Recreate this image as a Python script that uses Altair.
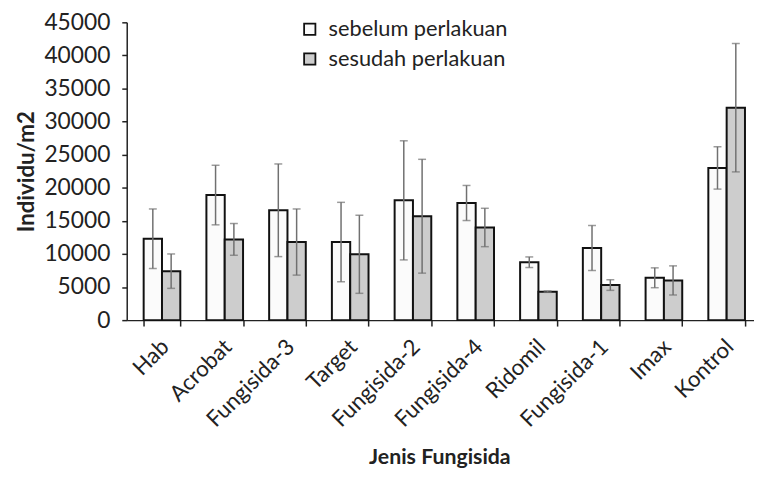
import altair as alt
import pandas as pd

categories = ["Hab", "Acrobat", "Fungisida-3", "Target", "Fungisida-2",
              "Fungisida-4", "Ridomil", "Fungisida-1", "Imax", "Kontrol"]
series_names = ["sebelum perlakuan", "sesudah perlakuan"]
sebelum = [12300, 18900, 16600, 11800, 18100, 17700, 8750, 10900, 6400, 23000]
sebelum_err = [4500, 4500, 7000, 6000, 9000, 2650, 800, 3400, 1500, 3200]
sesudah = [7400, 12200, 11800, 9950, 15700, 14000, 4300, 5300, 6000, 32100]
sesudah_err = [2600, 2400, 5000, 5900, 8600, 2900, 100, 800, 2200, 9700]
y_ticks = [0, 5000, 10000, 15000, 20000, 25000, 30000, 35000, 40000, 45000]

rows = []
for c, v, e in zip(categories, sebelum, sebelum_err):
    rows.append({"cat": c, "seri": series_names[0], "val": v, "lo": v - e, "hi": v + e})
for c, v, e in zip(categories, sesudah, sesudah_err):
    rows.append({"cat": c, "seri": series_names[1], "val": v, "lo": v - e, "hi": v + e})
df = pd.DataFrame(rows)

FONT = "Lato"

x_axis = alt.Axis(title="Jenis Fungisida", labelAngle=-45, labelAlign="right",
                  labelBaseline="middle", labelPadding=17, labelOffset=3,
                  labelFontSize=22.5, labelFont=FONT, labelColor="#222",
                  labelOverlap=False, labelLimit=300,
                  tickBand="extent", tickSize=6, tickColor="#222", tickWidth=1.5,
                  domainColor="#222", domainWidth=1.5,
                  titleFont=FONT, titleFontSize=21.5, titleFontWeight="bold",
                  titleColor="#222", titleBaseline="alphabetic", titleY=145, titleX=316)
y_axis = alt.Axis(title="Individu/m2", values=y_ticks, format="d", grid=False,
                  labelOverlap=False, labelFontSize=23, labelFont=FONT,
                  labelColor="#222", labelPadding=12,
                  tickSize=5, tickColor="#222", tickWidth=1.5,
                  domainColor="#222", domainWidth=1.5,
                  titleFont=FONT, titleFontSize=22.5, titleFontWeight="bold",
                  titleColor="#222", titleX=-101, titleBaseline="middle")

x_scale = alt.Scale(paddingInner=0.416, paddingOuter=0.27, range=[0, 642])
y_scale = alt.Scale(domain=[0, 45000], nice=False)
xoff = alt.XOffset("seri:N", sort=series_names, scale=alt.Scale(paddingInner=0))

bars = alt.Chart(df).mark_bar(stroke="#111", strokeWidth=2).encode(
    x=alt.X("cat:N", sort=categories, scale=x_scale, axis=x_axis),
    xOffset=xoff,
    y=alt.Y("val:Q", scale=y_scale, axis=y_axis),
    fill=alt.Fill("seri:N", sort=series_names,
                  scale=alt.Scale(domain=series_names, range=["#fbfbfb", "#cdcdcd"]),
                  legend=alt.Legend(title=None, orient="none", legendX=174, legendY=-4,
                                    symbolType="square", symbolSize=130,
                                    symbolStrokeColor="#111", symbolStrokeWidth=1.8,
                                    labelFont=FONT, labelFontSize=22, labelColor="#222",
                                    labelLimit=400,
                                    labelOffset=8, rowPadding=8, padding=0)),
)

err = alt.Chart(df).mark_rule(color="#707070", strokeWidth=1.5).encode(
    x=alt.X("cat:N", sort=categories, scale=x_scale, axis=x_axis), xOffset=xoff,
    y=alt.Y("lo:Q", scale=y_scale, axis=y_axis), y2="hi:Q")
cap_hi = alt.Chart(df).mark_tick(color="#707070", thickness=1.5, size=8, orient="horizontal").encode(
    x=alt.X("cat:N", sort=categories, scale=x_scale, axis=x_axis), xOffset=xoff,
    y=alt.Y("hi:Q", scale=y_scale, axis=y_axis))
cap_lo = alt.Chart(df).mark_tick(color="#707070", thickness=1.5, size=8, orient="horizontal").encode(
    x=alt.X("cat:N", sort=categories, scale=x_scale, axis=x_axis), xOffset=xoff,
    y=alt.Y("lo:Q", scale=y_scale, axis=y_axis))

chart = alt.layer(bars, err, cap_hi, cap_lo).resolve_axis(y="shared", x="shared").properties(
    width=632, height=301,
    autosize=alt.AutoSizeParams(type="none"),
    padding={"left": 120, "top": 12, "right": 2, "bottom": 150},
    background="white",
).configure_view(stroke=None)

chart.save("out.html", embed_options={"renderer": "svg", "actions": False})
